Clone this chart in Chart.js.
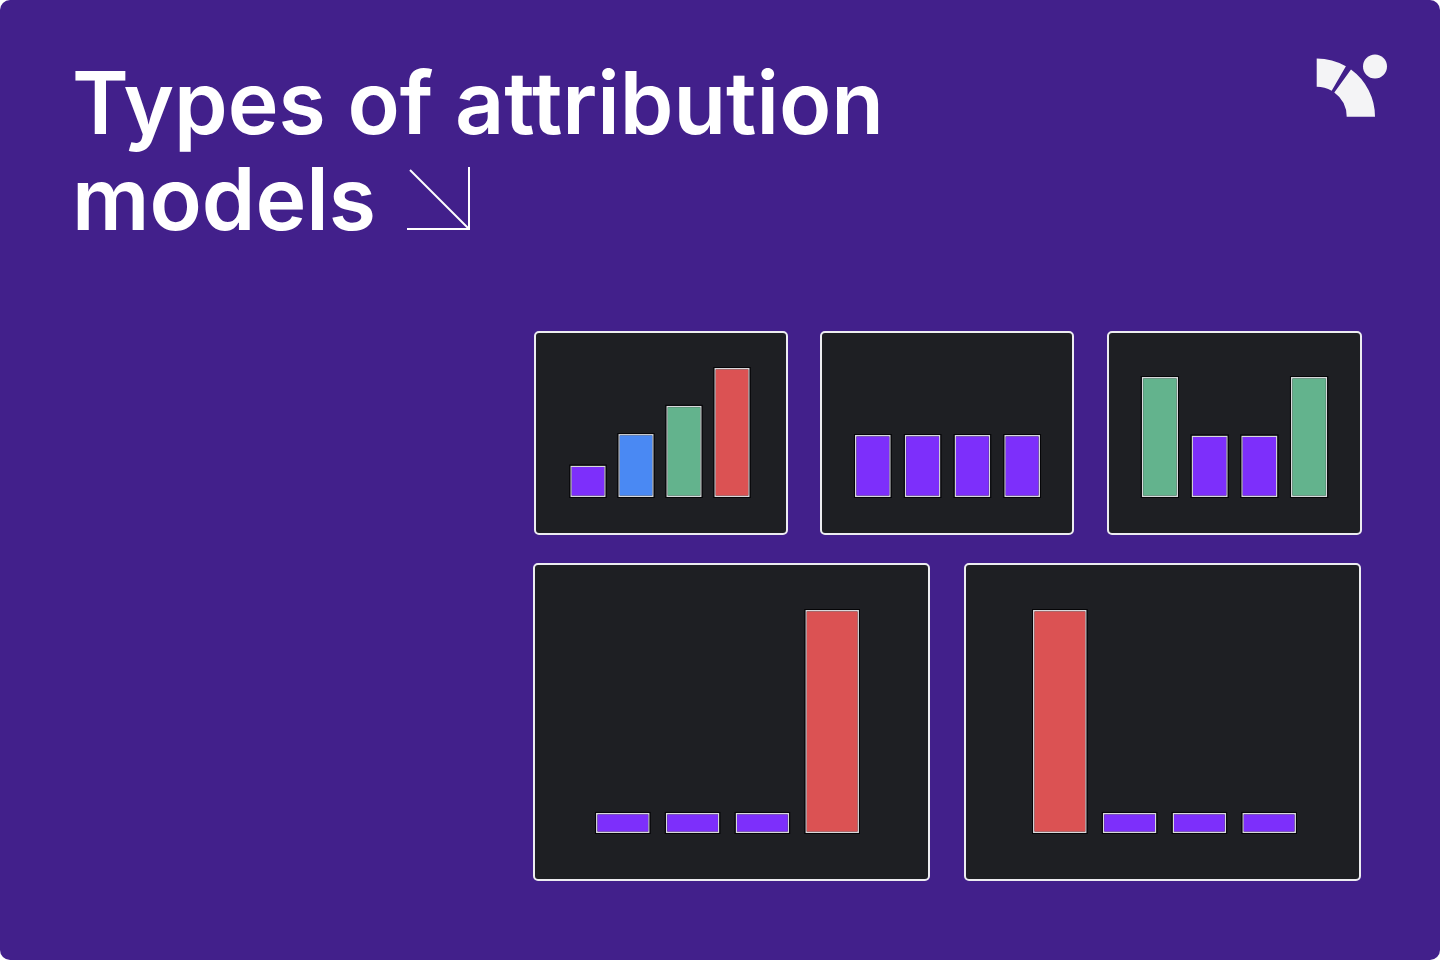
<!DOCTYPE html>
<html>
<head>
<meta charset="utf-8">
<script src="https://cdn.jsdelivr.net/npm/chart.js@4"></script>
<style>
  html, body { margin: 0; padding: 0; background: #ffffff; }
  #card {
    position: absolute; left: 0; top: 0; width: 1440px; height: 960px;
    background: #42208b; border-radius: 10px; overflow: hidden;
    font-family: Inter, "Noto Sans", sans-serif;
  }
  h1 {
    position: absolute; left: 72px; top: 55px; margin: 0;
    color: #ffffff; font-size: 86px; font-weight: 600; line-height: 96px;
    letter-spacing: 0px;
  }
  .panel {
    position: absolute; box-sizing: border-box;
    background: #1e1f23; border: 2px solid #ececf0; border-radius: 5px;
  }
  .plot { position: absolute; }
  svg { position: absolute; left: 0; top: 0; }
</style>
</head>
<body>
<div id="card">
  <h1>Types of attribution<br>models</h1>
  <svg width="1440" height="300">
    <g stroke="#ffffff" stroke-width="2" fill="none">
      <line x1="410" y1="170" x2="469" y2="229"/>
      <line x1="469" y1="167" x2="469" y2="230"/>
      <line x1="407" y1="229" x2="470" y2="229"/>
    </g>
    <g fill="#f4f4f6">
      <path d="M1316.7 58.4 A58.3 58.3 0 0 1 1345.9 66.2 L1331.7 90.7 A30 30 0 0 0 1316.7 86.7 Z"/>
      <path d="M1351.0 69.5 A58.3 58.3 0 0 1 1375 116.7 L1346.7 116.7 A30 30 0 0 0 1334.3 92.4 Z"/>
      <circle cx="1375" cy="66.5" r="12"/>
    </g>
  </svg>

  <div class="panel" style="left:534px;top:331px;width:254px;height:204px"></div>
  <div class="panel" style="left:820px;top:331px;width:254px;height:204px"></div>
  <div class="panel" style="left:1107px;top:331px;width:255px;height:204px"></div>
  <div class="panel" style="left:533px;top:563px;width:397px;height:318px"></div>
  <div class="panel" style="left:964px;top:563px;width:397px;height:318px"></div>

  <div class="plot" style="left:534px;top:331px;width:253px;height:203px"><canvas id="timeDecay"></canvas></div>
  <div class="plot" style="left:820px;top:331px;width:253px;height:203px"><canvas id="linear"></canvas></div>
  <div class="plot" style="left:1108px;top:331px;width:253px;height:203px"><canvas id="uShaped"></canvas></div>
  <div class="plot" style="left:534px;top:564px;width:395px;height:316px"><canvas id="lastTouch"></canvas></div>
  <div class="plot" style="left:965px;top:564px;width:395px;height:316px"><canvas id="firstTouch"></canvas></div>
</div>

<script>
// touchpoints in the customer journey
const touchpoints = ['Touch 1', 'Touch 2', 'Touch 3', 'Touch 4'];

// share of credit given to each touchpoint (%)
const timeDecayCredit = [10, 20, 29, 41];
const linearCredit = [25, 25, 25, 25];
const uShapedCredit = [39, 20, 20, 39];
const lastTouchCredit = [9, 9, 9, 100];
const firstTouchCredit = [100, 9, 9, 9];

const PURPLE = '#7d2ffb';
const BLUE = '#4a89f3';
const GREEN = '#63b38d';
const RED = '#db5253';

// thin dark outline just outside each bar
const barOutline = {
    id: 'barOutline',
    afterDatasetsDraw(chart) {
        const ctx = chart.ctx;
        ctx.save();
        ctx.strokeStyle = '#050507';
        ctx.lineWidth = 1;
        chart.getDatasetMeta(0).data.forEach(bar => {
            const p = bar.getProps(['x', 'y', 'base', 'width'], true);
            ctx.strokeRect(p.x - p.width / 2 - 0.5, p.y - 0.5, p.width + 1, p.base - p.y + 1);
        });
        ctx.restore();
    }
};

function drawModel(id, values, colors, padding, barPct) {
    new Chart(document.getElementById(id).getContext('2d'), {
        type: 'bar',
        data: {
            labels: touchpoints,
            datasets: [{
                label: 'Credit',
                data: values,
                backgroundColor: colors,
                borderColor: 'rgba(236, 236, 240, 0.9)',
                borderWidth: 1.5,
                borderSkipped: false,
                categoryPercentage: 1,
                barPercentage: barPct
            }]
        },
        options: {
            responsive: true,
            maintainAspectRatio: false,
            animation: false,
            layout: { padding: padding },
            scales: {
                x: { display: false },
                y: { display: false, min: 0, max: Math.max(...values) }
            },
            plugins: {
                legend: { display: false },
                tooltip: { enabled: false }
            }
        },
        plugins: [barOutline]
    });
}

drawModel('timeDecay', timeDecayCredit, [PURPLE, BLUE, GREEN, RED],
    { left: 30, right: 31, top: 37, bottom: 37 }, 0.74);
drawModel('linear', linearCredit, [PURPLE, PURPLE, PURPLE, PURPLE],
    { left: 28, right: 26, top: 104, bottom: 37 }, 0.72);
drawModel('uShaped', uShapedCredit, [GREEN, PURPLE, PURPLE, GREEN],
    { left: 27, right: 27, top: 46, bottom: 37 }, 0.73);
drawModel('lastTouch', lastTouchCredit, [PURPLE, PURPLE, PURPLE, RED],
    { left: 54, right: 62, top: 46, bottom: 47 }, 0.77);
drawModel('firstTouch', firstTouchCredit, [RED, PURPLE, PURPLE, PURPLE],
    { left: 60, right: 56, top: 46, bottom: 47 }, 0.77);
</script>
</body>
</html>
